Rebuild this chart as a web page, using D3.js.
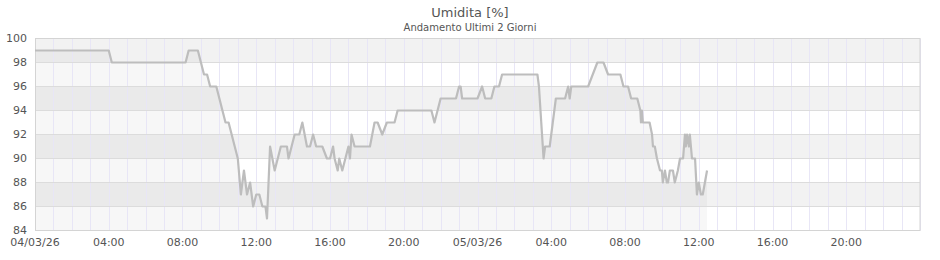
<!DOCTYPE html>
<html>
<head>
<meta charset="utf-8">
<script src="https://cdn.jsdelivr.net/npm/d3@7"></script>
<style>
  body { margin: 0; background: #fff; }
  text { font-family: "DejaVu Sans", sans-serif; fill: #555; }
</style>
</head>
<body>
<div id="chart"></div>
<script>
// humidity readings, 04/03/26 - 05/03/26
const times = [
  "04/03 00:00", "04/03 04:00", "04/03 04:10", "04/03 08:10", "04/03 08:20", "04/03 08:50",
  "04/03 09:00", "04/03 09:10", "04/03 09:20", "04/03 09:30", "04/03 09:50", "04/03 10:00",
  "04/03 10:10", "04/03 10:20", "04/03 10:30", "04/03 10:40", "04/03 10:50", "04/03 11:00",
  "04/03 11:10", "04/03 11:20", "04/03 11:30", "04/03 11:40", "04/03 11:50", "04/03 12:00",
  "04/03 12:10", "04/03 12:20", "04/03 12:30", "04/03 12:35", "04/03 12:45", "04/03 13:00",
  "04/03 13:10", "04/03 13:20", "04/03 13:40", "04/03 13:45", "04/03 13:55", "04/03 14:05",
  "04/03 14:20", "04/03 14:30", "04/03 14:45", "04/03 14:55", "04/03 15:05", "04/03 15:15",
  "04/03 15:35", "04/03 15:50", "04/03 16:00", "04/03 16:10", "04/03 16:15", "04/03 16:25",
  "04/03 16:30", "04/03 16:40", "04/03 16:50", "04/03 17:00", "04/03 17:05", "04/03 17:10",
  "04/03 17:20", "04/03 18:10", "04/03 18:25", "04/03 18:35", "04/03 18:50", "04/03 19:05",
  "04/03 19:30", "04/03 19:40", "04/03 21:30", "04/03 21:40", "04/03 22:00", "04/03 22:50",
  "04/03 23:00", "04/03 23:05", "04/03 23:10", "05/03 00:00", "05/03 00:15", "05/03 00:25",
  "05/03 00:45", "05/03 00:55", "05/03 01:10", "05/03 01:20", "05/03 03:15", "05/03 03:20",
  "05/03 03:30", "05/03 03:35", "05/03 03:40", "05/03 03:55", "05/03 04:05", "05/03 04:15",
  "05/03 04:20", "05/03 04:45", "05/03 04:55", "05/03 05:00", "05/03 05:05", "05/03 06:00",
  "05/03 06:15", "05/03 06:30", "05/03 06:50", "05/03 07:05", "05/03 07:45", "05/03 07:55",
  "05/03 08:10", "05/03 08:20", "05/03 08:40", "05/03 08:50", "05/03 08:52", "05/03 08:55",
  "05/03 08:58", "05/03 09:20", "05/03 09:28", "05/03 09:31", "05/03 09:37", "05/03 09:44",
  "05/03 09:54", "05/03 10:00", "05/03 10:03", "05/03 10:10", "05/03 10:16", "05/03 10:20",
  "05/03 10:26", "05/03 10:36", "05/03 10:42", "05/03 10:52", "05/03 10:59", "05/03 11:09",
  "05/03 11:15", "05/03 11:18", "05/03 11:22", "05/03 11:28", "05/03 11:31", "05/03 11:38",
  "05/03 11:48", "05/03 11:54", "05/03 12:00", "05/03 12:07", "05/03 12:13", "05/03 12:20",
  "05/03 12:27"
];
const humidity = [
  99, 99, 98, 98, 99, 99,
  98, 97, 97, 96, 96, 95,
  94, 93, 93, 92, 91, 90,
  87, 89, 87, 88, 86, 87,
  87, 86, 86, 85, 91, 89,
  90, 91, 91, 90, 91, 92,
  92, 93, 91, 91, 92, 91,
  91, 90, 90, 91, 90, 89,
  90, 89, 90, 91, 90, 92,
  91, 91, 93, 93, 92, 93,
  93, 94, 94, 93, 95, 95,
  96, 96, 95, 95, 96, 95,
  95, 96, 96, 97, 97, 96,
  92, 90, 91, 91, 93, 95,
  95, 95, 96, 95, 96, 96,
  97, 98, 98, 97, 97, 96,
  96, 95, 95, 94, 93, 94,
  93, 93, 92, 91, 91, 90,
  89, 89, 88, 89, 88, 88,
  89, 89, 88, 89, 90, 90,
  92, 91, 92, 91, 92, 90,
  90, 87, 88, 87, 87, 88,
  89
];
const yTicks = [84, 86, 88, 90, 92, 94, 96, 98, 100];
const title = "Umidita [%]";
const subtitle = "Andamento Ultimi 2 Giorni";
const startDay = "04/03";
const endDay = "06/03";

const W = 940, H = 260;
const m = {left: 35, right: 20, top: 38.5, bottom: 29.5};

const parse = d3.timeParse("%d/%m/%Y %H:%M");
const data = times.map((t, i) => ({t: parse(t.replace(" ", "/2026 ")), v: humidity[i]}));

const svg = d3.select("#chart").append("svg")
    .attr("width", W)
    .attr("height", H);

let x = d3.scaleTime()
    .domain([parse(startDay + "/2026 00:00"), parse(endDay + "/2026 00:00")])
    .range([m.left, W - m.right]);
let y = d3.scaleLinear()
    .domain([84, 100])
    .range([H - m.bottom, m.top]);

// alternating bands
let bands = yTicks.slice(0, -1);
svg.append("g").selectAll("rect")
    .data(bands)
    .join("rect")
    .attr("x", m.left)
    .attr("width", W - m.right - m.left)
    .attr("y", d => y(d + 2))
    .attr("height", d => y(d) - y(d + 2))
    .attr("fill", (d, i) => i % 2 ? "#f2f2f2" : "#ffffff");

// area under the line
let area = d3.area()
    .x(d => x(d.t))
    .y0(y(84))
    .y1(d => y(d.v));
svg.append("path")
    .datum(data)
    .attr("d", area)
    .attr("fill", "rgba(0,0,0,0.03)");

// hourly vertical grid
svg.append("g").selectAll("line")
    .data(x.ticks(d3.timeHour.every(1)))
    .join("line")
    .attr("x1", d => Math.round(x(d)) + 0.5)
    .attr("x2", d => Math.round(x(d)) + 0.5)
    .attr("y1", m.top)
    .attr("y2", H - m.bottom)
    .attr("stroke", "#e8e6f6");

// horizontal grid
svg.append("g").selectAll("line")
    .data(yTicks)
    .join("line")
    .attr("x1", m.left)
    .attr("x2", W - m.right)
    .attr("y1", d => y(d))
    .attr("y2", d => y(d))
    .attr("stroke", "#dcdcdc");

// frame
svg.append("rect")
    .attr("x", m.left + 0.5)
    .attr("y", m.top)
    .attr("width", W - m.right - m.left - 0.5)
    .attr("height", y(84) - m.top)
    .attr("fill", "none")
    .attr("stroke", "#d4d4d4");

// the line
let line = d3.line()
    .x(d => x(d.t))
    .y(d => y(d.v));
svg.append("path")
    .datum(data)
    .attr("d", line)
    .attr("fill", "none")
    .attr("stroke", "#bdbdbd")
    .attr("stroke-width", 2.2)
    .attr("stroke-linejoin", "round");

// y labels
svg.append("g").selectAll("text")
    .data(yTicks)
    .join("text")
    .attr("x", 27)
    .attr("y", d => y(d))
    .attr("dy", "0.35em")
    .attr("text-anchor", "end")
    .style("font-size", "11px")
    .text(d => d);

// x labels
let fmtDay = d3.timeFormat("%d/%m/%y");
let fmtHour = d3.timeFormat("%H:%M");
svg.append("g").selectAll("text")
    .data(x.ticks(d3.timeHour.every(4)).filter(d => x(d) < W - m.right - 1))
    .join("text")
    .attr("x", d => x(d))
    .attr("y", 246)
    .attr("text-anchor", "middle")
    .style("font-size", "11px")
    .text(d => d.getHours() === 0 ? fmtDay(d) : fmtHour(d));

// titles
svg.append("text")
    .attr("x", W / 2)
    .attr("y", 17)
    .attr("text-anchor", "middle")
    .style("font-size", "13px")
    .text(title);
svg.append("text")
    .attr("x", W / 2)
    .attr("y", 31)
    .attr("text-anchor", "middle")
    .style("font-size", "10px")
    .text(subtitle);
</script>
</body>
</html>
